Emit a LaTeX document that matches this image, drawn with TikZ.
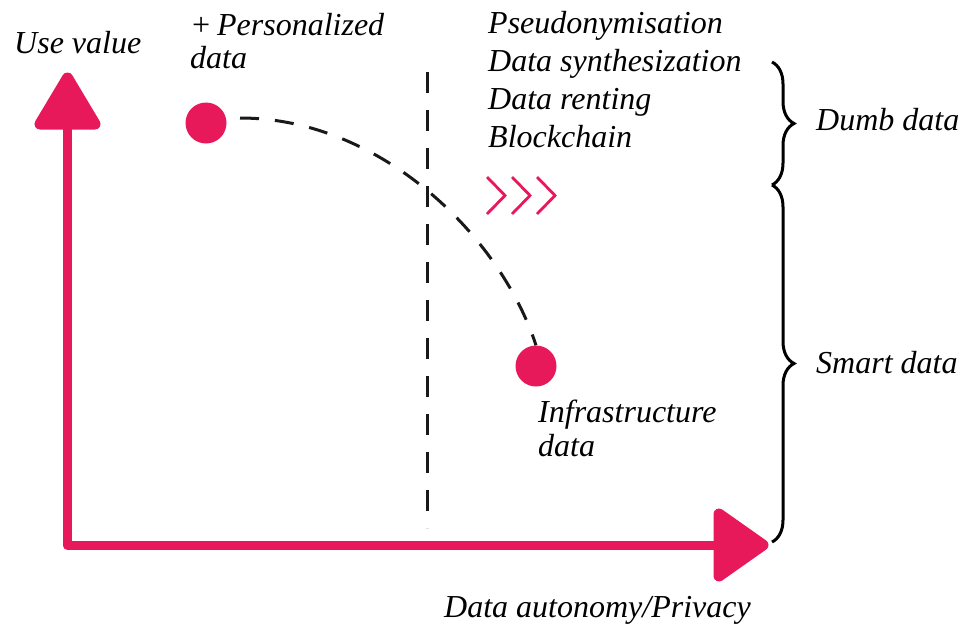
\documentclass[tikz,border=0pt]{standalone}
\usepackage{fontspec}
\setmainfont{Liberation Serif}
\usetikzlibrary{decorations.pathreplacing}
\definecolor{pink}{HTML}{E8195A}
\tikzset{
  lbl/.style={anchor=base west, inner sep=0pt, font=\fontsize{32}{38}\selectfont\itshape},
  axis/.style={draw=pink, line width=9pt, line join=round},
  head/.style={fill=pink, draw=pink, line width=11pt, line join=round},
  dot/.style={circle, fill=pink, minimum size=41pt, inner sep=0pt},
  dashline/.style={draw=black!90, line width=3pt, dash pattern=on 19pt off 16pt},
  chev/.style={draw=pink, line width=2.8pt},
  bracestyle/.style={draw=black, line width=3pt, decorate, decoration={brace, amplitude=22pt}},
}
\begin{document}
\begin{tikzpicture}[x=1pt, y=-1pt]
\useasboundingbox (0,0) rectangle (965,627);
% axes
\coordinate (ytop) at (67,128);
\coordinate (origin) at (67,545);
\coordinate (xend) at (716,545);
\draw[axis] (ytop) -- (origin) -- (xend);
\path[head] (40,124) -- (67.5,78) -- (95,124) -- cycle;
\path[head] (719,514) -- (763,545) -- (719,576) -- cycle;
% labels axes
\node[lbl] (yl) at (14,53) {Use value};
\node[lbl] (xl) at (444,617) {Data autonomy/Privacy};
% vertical dashed line
\coordinate (vt) at (427,72);
\coordinate (vb) at (427,528);
\draw[dashline, dash pattern=on 21pt off 17pt] (vt) -- (vb);
% dots
\node[dot] (d1) at (206,123) {};
\node[dot] (d2) at (536,366) {};
\coordinate (c1) at (240,118);
\draw[dashline] (c1) .. controls (380,118) and (500,235) .. (d2.north);
% dot labels
\node[lbl] (p1) at (190,35) {+\,Personalized};
\node[lbl] (p2) at (190,68) {data};
\node[lbl] (i1) at (538,422) {Infrastructure};
\node[lbl] (i2) at (538,456) {data};
% list
\node[lbl] (t1) at (488,33) {Pseudonymisation};
\node[lbl] (t2) at (488,71) {Data synthesization};
\node[lbl] (t3) at (488,109) {Data renting};
\node[lbl] (t4) at (488,147) {Blockchain};
% chevrons
\draw[chev] (487,177) -- (505,195.5) -- (487,214);
\draw[chev] (512,177) -- (530,195.5) -- (512,214);
\draw[chev] (537,177) -- (555,195.5) -- (537,214);
% braces
\coordinate (b0) at (772,62);
\coordinate (b1) at (772,185);
\coordinate (b2) at (772,542);
\draw[bracestyle] (b0) -- (b1);
\draw[bracestyle] (b1) -- (b2);
\node[lbl] (dumb) at (816,130) {Dumb data};
\node[lbl] (smart) at (816,373) {Smart data};
\end{tikzpicture}
\end{document}
